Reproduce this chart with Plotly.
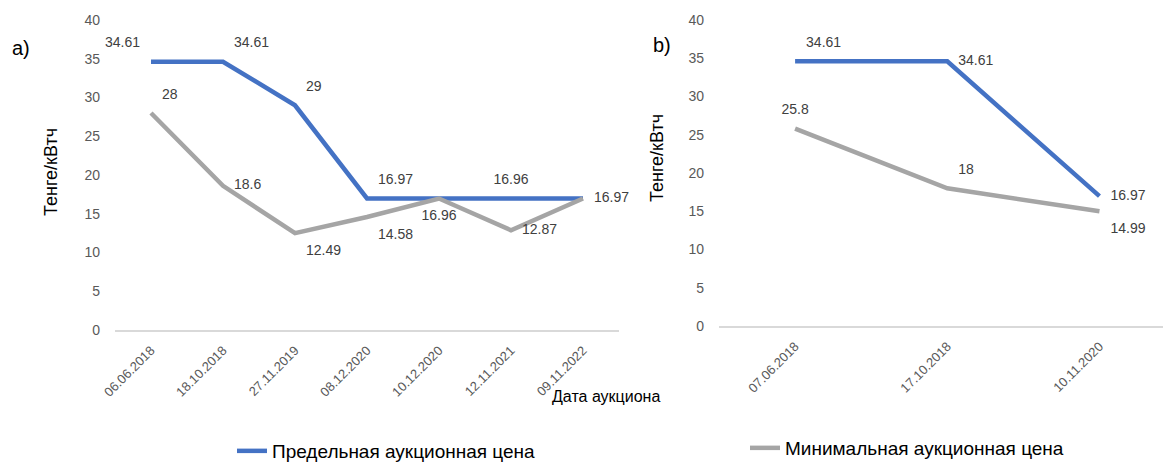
import plotly.graph_objects as go

# ---- data ----
dates_a = ["06.06.2018", "18.10.2018", "27.11.2019", "08.12.2020", "10.12.2020", "12.11.2021", "09.11.2022"]
max_a = [34.61, 34.61, 29, 16.97, 16.97, 16.96, 16.97]
min_a = [28, 18.6, 12.49, 14.58, 16.96, 12.87, 16.97]
max_a_labels = ["34.61", "34.61", "29", "16.97", "", "16.96", "16.97"]
min_a_labels = ["28", "18.6", "12.49", "14.58", "16.96", "12.87", ""]

dates_b = ["07.06.2018", "17.10.2018", "10.11.2020"]
max_b = [34.61, 34.61, 16.97]
min_b = [25.8, 18, 14.99]
max_b_labels = ["34.61", "34.61", "16.97"]
min_b_labels = ["25.8", "18", "14.99"]

series_names = ["Предельная аукционная цена", "Минимальная аукционная цена"]
y_ticks = [0, 5, 10, 15, 20, 25, 30, 35, 40]

BLUE = "#4472C4"
GREY = "#A5A5A5"
FONT = "Liberation Sans"
LBL = dict(family=FONT, size=14, color="#404040")
INVIS = dict(size=16, opacity=0, color="rgba(0,0,0,0)")

fig = go.Figure()

# panel a
fig.add_trace(go.Scatter(
    x=dates_a, y=max_a, mode="lines+markers+text", text=max_a_labels, marker=INVIS,
    textposition=["top left", "top right", "top right", "top right", "top center", "top center", "middle right"],
    textfont=LBL, line=dict(color=BLUE, width=4.5), name=series_names[0], cliponaxis=False,
    xaxis="x", yaxis="y", showlegend=True, legend="legend"))
fig.add_trace(go.Scatter(
    x=dates_a, y=min_a, mode="lines+markers+text", text=min_a_labels, marker=INVIS,
    textposition=["top right", "middle right", "bottom right", "bottom right", "bottom center", "middle right", "middle right"],
    textfont=LBL, line=dict(color=GREY, width=4.5), name=series_names[1],
    xaxis="x", yaxis="y", showlegend=True, legend="legend2"))

# panel b
fig.add_trace(go.Scatter(
    x=dates_b, y=max_b, mode="lines+markers+text", text=max_b_labels, marker=INVIS,
    textposition=["top right", "middle right", "middle right"],
    textfont=LBL, line=dict(color=BLUE, width=4.5), name=series_names[0], cliponaxis=False,
    xaxis="x2", yaxis="y2", showlegend=False))
fig.add_trace(go.Scatter(
    x=dates_b, y=min_b, mode="lines+markers+text", text=min_b_labels, marker=INVIS,
    textposition=["top center", "top right", "bottom right"],
    textfont=LBL, line=dict(color=GREY, width=4.5), name=series_names[1], cliponaxis=False,
    xaxis="x2", yaxis="y2", showlegend=False))

# page body has an 8px default margin: figure is laid out in page pixels minus that offset
OFF = 8
W, H = 1171 - OFF, 462 - OFF

def px_x(v):
    return (v - OFF) / W

def px_y(v):
    return 1 - (v - OFF) / H

common_y = dict(range=[0, 40], tickvals=y_ticks, showgrid=False, zeroline=False, showline=False,
                tickfont=dict(family=FONT, size=14, color="#595959"), ticklabelstandoff=14,
                fixedrange=True)
common_x = dict(type="category", showgrid=False, zeroline=False, showline=True, linecolor="#D9D9D9",
                linewidth=1.5, tickangle=-45, tickfont=dict(family=FONT, size=13, color="#595959"),
                ticks="", ticklabelstandoff=6)

legend_common = dict(orientation="h", yanchor="middle", xanchor="left",
                     font=dict(family=FONT, size=19, color="#000000"), bgcolor="rgba(0,0,0,0)")

def ann(text, x, y, size, angle=0):
    return dict(text=text, x=px_x(x), y=px_y(y), xref="paper", yref="paper", showarrow=False,
                xanchor="center", yanchor="middle", textangle=angle,
                font=dict(family=FONT, size=size, color="#000000"))

fig.update_layout(
    width=W, height=H,
    margin=dict(l=0, r=0, t=0, b=0, autoexpand=False),
    paper_bgcolor="white", plot_bgcolor="white",
    font=dict(family=FONT, color="#000000"),
    xaxis=dict(domain=[px_x(115), px_x(619)], range=[-0.5, 6.5], anchor="y", **common_x),
    yaxis=dict(domain=[px_y(330), px_y(20)], anchor="x", **common_y),
    xaxis2=dict(domain=[px_x(719), 1.0], range=[-0.5, 2.47], anchor="y2", **common_x),
    yaxis2=dict(domain=[px_y(326), px_y(20)], anchor="x2", **common_y),
    legend=dict(x=px_x(232), y=px_y(451), **legend_common),
    legend2=dict(x=px_x(745), y=px_y(448), **legend_common),
    annotations=[
        ann("a)", 21, 48, 20),
        ann("b)", 662, 45, 20),
        ann("Тенге/кВтч", 51, 172, 18, -90),
        ann("Тенге/кВтч", 657, 158, 18, -90),
        ann("Дата аукциона", 606, 396, 16),
    ],
)

fig.write_html("out.html")
